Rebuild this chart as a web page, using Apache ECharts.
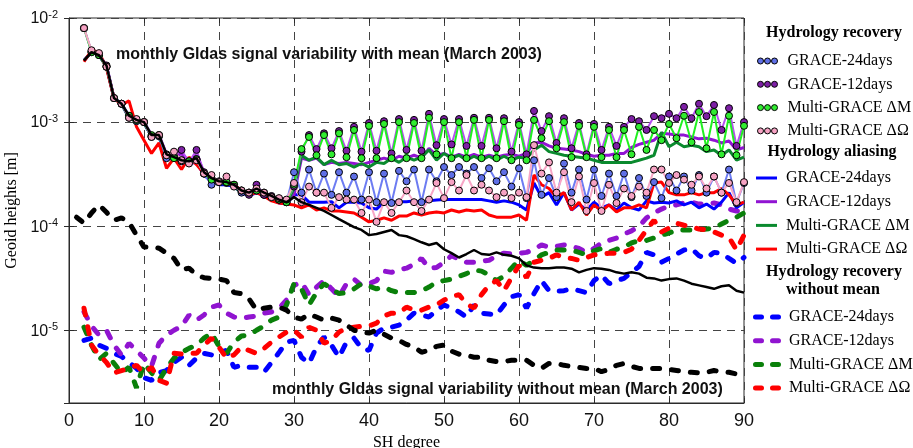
<!DOCTYPE html>
<html><head><meta charset="utf-8">
<script src="https://cdn.jsdelivr.net/npm/echarts@6/dist/echarts.min.js"></script>
<style>html,body{margin:0;padding:0;background:#fff}#chart{width:913px;height:448px}</style>
</head><body><div id="chart"></div>
<script>
// SH degrees 2..90
const degrees = [2,3,4,5,6,7,8,9,
10,11,12,13,14,15,16,17,18,19,20,21,22,23,24,25,26,27,28,29,
30,31,32,33,34,35,36,37,38,39,40,41,42,43,44,45,46,47,48,49,
50,51,52,53,54,55,56,57,58,59,60,61,62,63,64,65,66,67,68,69,
70,71,72,73,74,75,76,77,78,79,80,81,82,83,84,85,86,87,88,89,90];
const degreesFromOne = [1].concat(degrees);
const yTickPowers = [-5, -4, -3, -2];

// GLDAS signal variability with mean (black solid), degrees 2..90
const signalWithMean = [
3.9e-3,4.7e-3,4.4e-3,3.5e-3,1.7e-3,1.5e-3,1.15e-3,1.05e-3,
1.0e-3,7.5e-4,7.5e-4,4.9e-4,4.6e-4,4.3e-4,4.2e-4,4.5e-4,3.3e-4,2.9e-4,
2.7e-4,2.65e-4,2.5e-4,2.2e-4,2.1e-4,2.3e-4,2.1e-4,1.95e-4,1.8e-4,1.7e-4,
1.9e-4,1.7e-4,1.6e-4,1.5e-4,1.4e-4,1.28e-4,1.17e-4,1.07e-4,9.8e-5,9.2e-5,
8.2e-5,8.4e-5,8.8e-5,9.2e-5,8.2e-5,8.0e-5,7.5e-5,7.0e-5,6.6e-5,6.9e-5,
6.0e-5,5.5e-5,5.0e-5,5.4e-5,5.9e-5,5.4e-5,5.3e-5,5.6e-5,5.3e-5,5.2e-5,
4.9e-5,4.2e-5,4.0e-5,3.95e-5,3.95e-5,4.0e-5,4.0e-5,3.9e-5,3.6e-5,3.8e-5,
3.95e-5,3.9e-5,3.8e-5,3.6e-5,3.5e-5,3.6e-5,3.5e-5,3.2e-5,3.15e-5,3.0e-5,
3.1e-5,3.15e-5,3.0e-5,2.8e-5,2.7e-5,2.6e-5,2.5e-5,2.65e-5,2.7e-5,2.4e-5,
2.3e-5];

// GLDAS signal variability without mean (black dashed), degrees 1..90
const signalNoMean = [
1.22e-4,1.07e-4,1.34e-4,1.6e-4,1.36e-4,1.14e-4,1.2e-4,1.09e-4,8.2e-5,
6.3e-5,6.3e-5,6.15e-5,5.5e-5,4.9e-5,3.8e-5,3.95e-5,3.4e-5,3.2e-5,3.15e-5,
3.1e-5,3.0e-5,2.3e-5,2.25e-5,2.0e-5,1.56e-5,1.63e-5,1.67e-5,1.67e-5,1.56e-5,
1.34e-5,1.28e-5,1.43e-5,1.34e-5,1.25e-5,1.31e-5,1.25e-5,1.12e-5,1.0e-5,9.6e-6,
9.4e-6,1.0e-5,9.15e-6,8.4e-6,8.0e-6,7.3e-6,6.9e-6,6.15e-6,6.4e-6,7.0e-6,
7.2e-6,6.3e-6,5.9e-6,5.75e-6,5.5e-6,5.5e-6,5.15e-6,5.0e-6,5.0e-6,5.15e-6,
5.15e-6,5.15e-6,4.6e-6,4.3e-6,4.8e-6,4.8e-6,4.6e-6,4.5e-6,4.4e-6,4.3e-6,
4.3e-6,4.0e-6,4.2e-6,4.6e-6,4.8e-6,4.5e-6,4.3e-6,4.3e-6,4.3e-6,4.3e-6,
4.2e-6,4.1e-6,4.0e-6,3.95e-6,3.9e-6,3.95e-6,4.1e-6,4.0e-6,3.95e-6,3.8e-6,
3.7e-6];

// Hydrology recovery (markers), degrees 2..90
const recGrace24 = [
8.0e-3,4.7e-3,4.4e-3,3.4e-3,1.7e-3,1.5e-3,1.15e-3,1.02e-3,
1.0e-3,7.2e-4,7.3e-4,4.5e-4,4.6e-4,4.2e-4,4.2e-4,4.4e-4,3.2e-4,2.5e-4,
2.65e-4,2.6e-4,2.5e-4,2.1e-4,2.1e-4,2.2e-4,2.0e-4,1.9e-4,1.8e-4,1.7e-4,
3.3e-4,2.1e-4,3.5e-4,2.1e-4,3.2e-4,2.0e-4,3.3e-4,2.1e-4,3.0e-4,1.8e-4,
3.3e-4,1.7e-4,3.2e-4,1.67e-4,3.4e-4,2.7e-4,3.5e-4,1.7e-4,3.5e-4,2.7e-4,
3.7e-4,3.1e-4,3.7e-4,3.2e-4,3.7e-4,2.9e-4,3.6e-4,2.7e-4,3.3e-4,2.4e-4,
3.6e-4,1.86e-4,4.3e-4,2.0e-4,2.9e-4,1.9e-4,4.0e-4,2.1e-4,3.5e-4,1.8e-4,
3.5e-4,1.95e-4,3.2e-4,1.95e-4,3.2e-4,1.9e-4,2.9e-4,1.95e-4,2.65e-4,1.86e-4,
3.0e-4,2.2e-4,3.0e-4,2.2e-4,3.1e-4,2.1e-4,3.0e-4,2.1e-4,3.5e-4,1.67e-4,
2.6e-4];
const recGrace12 = [
8.0e-3,4.8e-3,4.4e-3,3.5e-3,1.7e-3,1.5e-3,1.1e-3,1.05e-3,
1.0e-3,7.3e-4,7.5e-4,4.9e-4,4.7e-4,5.4e-4,4.1e-4,5.4e-4,3.3e-4,2.9e-4,
2.7e-4,2.65e-4,2.5e-4,2.2e-4,2.0e-4,2.5e-4,2.0e-4,1.95e-4,1.8e-4,1.7e-4,
2.4e-4,5.2e-4,7.5e-4,5.5e-4,7.8e-4,5.6e-4,8.2e-4,5.3e-4,9.0e-4,5.2e-4,
9.8e-4,5.3e-4,1.02e-3,5.0e-4,1.07e-3,5.4e-4,1.05e-3,5.3e-4,1.2e-3,6.0e-4,
1.07e-3,6.1e-4,1.07e-3,5.9e-4,1.1e-3,5.9e-4,1.1e-3,5.6e-4,1.09e-3,5.2e-4,
1.0e-3,4.9e-4,1.28e-3,8.2e-4,1.14e-3,6.3e-4,1.09e-3,5.6e-4,9.8e-4,4.9e-4,
9.6e-4,5.4e-4,9.0e-4,5.9e-4,9.0e-4,1.07e-3,1.02e-3,8.4e-4,1.14e-3,1.09e-3,
1.2e-3,1.09e-3,1.4e-3,1.09e-3,1.5e-3,1.14e-3,1.46e-3,8.4e-4,1.36e-3,5.9e-4,
1.0e-3];
const recMultiM = [
8.0e-3,4.7e-3,4.4e-3,3.4e-3,1.7e-3,1.5e-3,1.15e-3,1.05e-3,
1.0e-3,7.5e-4,7.5e-4,4.8e-4,4.5e-4,4.3e-4,4.2e-4,4.4e-4,3.2e-4,2.8e-4,
2.65e-4,2.65e-4,2.5e-4,2.2e-4,2.1e-4,2.2e-4,2.1e-4,1.9e-4,1.8e-4,1.7e-4,
2.5e-4,5.5e-4,7.2e-4,4.8e-4,7.5e-4,4.9e-4,7.8e-4,4.6e-4,8.4e-4,4.5e-4,
9.2e-4,4.5e-4,9.6e-4,4.5e-4,1.0e-3,4.5e-4,9.8e-4,4.5e-4,1.1e-3,4.9e-4,
1.0e-3,4.5e-4,1.0e-3,4.5e-4,1.05e-3,4.5e-4,1.05e-3,4.5e-4,1.02e-3,4.3e-4,
9.4e-4,4.3e-4,1.05e-3,7.0e-4,1.02e-3,5.6e-4,1.0e-3,4.6e-4,9.2e-4,4.6e-4,
9.0e-4,4.6e-4,8.4e-4,4.6e-4,8.4e-4,4.9e-4,9.0e-4,5.4e-4,8.4e-4,6.7e-4,
9.6e-4,7.0e-4,1.15e-3,6.4e-4,1.25e-3,5.6e-4,1.25e-3,4.9e-4,1.15e-3,4.8e-4,
9.2e-4];
const recMultiW = [
8.0e-3,4.9e-3,4.6e-3,3.4e-3,1.7e-3,1.5e-3,1.1e-3,1.07e-3,
1.0e-3,7.2e-4,7.5e-4,4.8e-4,5.2e-4,4.3e-4,4.0e-4,4.3e-4,3.2e-4,3.1e-4,
2.65e-4,3.0e-4,2.4e-4,2.2e-4,2.1e-4,2.3e-4,2.1e-4,1.9e-4,1.86e-4,1.8e-4,
2.6e-4,1.7e-4,2.4e-4,2.1e-4,2.1e-4,1.5e-4,1.9e-4,1.8e-4,1.8e-4,1.34e-4,
1.8e-4,1.1e-4,1.7e-4,1.34e-4,1.7e-4,2.2e-4,1.7e-4,1.4e-4,1.8e-4,2.6e-4,
1.86e-4,2.65e-4,2.2e-4,3.1e-4,2.2e-4,2.5e-4,2.2e-4,1.9e-4,2.1e-4,1.86e-4,
2.1e-4,1.9e-4,6.0e-4,3.2e-4,4.1e-4,2.1e-4,3.3e-4,1.7e-4,3.0e-4,1.4e-4,
2.6e-4,1.4e-4,2.5e-4,1.67e-4,2.3e-4,1.95e-4,2.4e-4,2.1e-4,3.5e-4,3.5e-4,
2.6e-4,3.1e-4,2.8e-4,2.5e-4,3.0e-4,2.3e-4,3.0e-4,2.1e-4,2.6e-4,1.7e-4,
2.65e-4];

// Hydrology aliasing (solid), degrees 2..90
const aliGrace24 = [
3.9e-3,4.7e-3,4.4e-3,3.4e-3,1.7e-3,1.5e-3,1.1e-3,1.02e-3,
9.8e-4,7.3e-4,7.2e-4,4.6e-4,4.4e-4,4.0e-4,4.0e-4,4.1e-4,3.1e-4,2.7e-4,
2.5e-4,2.5e-4,2.4e-4,2.1e-4,1.95e-4,2.1e-4,1.95e-4,1.8e-4,1.67e-4,1.63e-4,
2.0e-4,2.0e-4,1.7e-4,1.7e-4,1.7e-4,1.72e-4,1.5e-4,1.7e-4,1.7e-4,1.67e-4,
1.5e-4,1.46e-4,1.7e-4,1.7e-4,1.72e-4,1.72e-4,1.75e-4,1.7e-4,1.75e-4,1.78e-4,
1.8e-4,1.8e-4,1.8e-4,1.8e-4,1.8e-4,1.8e-4,1.75e-4,1.7e-4,1.75e-4,1.7e-4,
1.6e-4,1.43e-4,2.6e-4,1.9e-4,2.1e-4,1.6e-4,2.1e-4,1.43e-4,1.63e-4,1.43e-4,
1.7e-4,1.5e-4,1.6e-4,1.43e-4,1.67e-4,1.5e-4,1.43e-4,1.75e-4,1.67e-4,1.7e-4,
1.67e-4,1.75e-4,1.6e-4,1.7e-4,1.5e-4,1.63e-4,1.46e-4,1.7e-4,2.1e-4,1.5e-4,
1.7e-4];
const aliGrace12 = [
3.9e-3,4.7e-3,4.4e-3,3.5e-3,1.7e-3,1.5e-3,1.15e-3,1.05e-3,
1.0e-3,7.5e-4,7.5e-4,4.9e-4,4.6e-4,5.0e-4,4.2e-4,4.8e-4,3.3e-4,2.9e-4,
2.7e-4,2.65e-4,2.5e-4,2.2e-4,2.1e-4,2.3e-4,2.1e-4,1.95e-4,1.8e-4,1.75e-4,
2.0e-4,4.5e-4,4.3e-4,4.5e-4,3.9e-4,4.1e-4,4.0e-4,4.1e-4,4.0e-4,3.9e-4,
4.1e-4,4.3e-4,4.5e-4,4.3e-4,4.7e-4,4.5e-4,4.8e-4,4.5e-4,5.6e-4,4.8e-4,
5.0e-4,4.6e-4,4.9e-4,4.6e-4,4.9e-4,4.6e-4,4.8e-4,4.6e-4,4.8e-4,4.9e-4,
4.7e-4,5.0e-4,6.3e-4,6.4e-4,5.9e-4,5.6e-4,5.5e-4,5.4e-4,5.2e-4,4.9e-4,
4.7e-4,4.8e-4,4.8e-4,5.0e-4,5.0e-4,5.7e-4,6.1e-4,6.4e-4,6.7e-4,7.8e-4,
7.7e-4,7.5e-4,7.5e-4,7.2e-4,6.9e-4,7.0e-4,6.7e-4,6.3e-4,6.6e-4,5.4e-4,
5.7e-4];
const aliMultiM = [
3.9e-3,4.7e-3,4.4e-3,3.4e-3,1.7e-3,1.5e-3,1.1e-3,1.02e-3,
9.8e-4,7.3e-4,7.3e-4,4.7e-4,4.5e-4,4.2e-4,4.1e-4,4.3e-4,3.2e-4,2.7e-4,
2.6e-4,2.6e-4,2.4e-4,2.1e-4,2.0e-4,2.2e-4,2.0e-4,1.86e-4,1.75e-4,1.67e-4,
2.3e-4,4.8e-4,4.3e-4,4.6e-4,3.9e-4,4.3e-4,3.9e-4,4.0e-4,3.7e-4,4.0e-4,
3.7e-4,4.1e-4,4.0e-4,4.5e-4,4.1e-4,4.6e-4,4.3e-4,4.6e-4,5.4e-4,4.3e-4,
5.0e-4,4.5e-4,4.8e-4,4.3e-4,4.7e-4,4.3e-4,4.7e-4,4.3e-4,4.7e-4,4.3e-4,
4.6e-4,4.5e-4,5.4e-4,6.0e-4,5.2e-4,5.0e-4,4.8e-4,4.7e-4,4.6e-4,4.5e-4,
4.3e-4,4.1e-4,4.1e-4,4.1e-4,4.1e-4,4.1e-4,4.3e-4,4.5e-4,4.8e-4,8.0e-4,
5.8e-4,6.4e-4,5.8e-4,6.0e-4,5.8e-4,5.2e-4,5.4e-4,4.8e-4,5.4e-4,4.3e-4,
4.6e-4];
const aliMultiW = [
3.8e-3,4.9e-3,4.7e-3,3.3e-3,1.7e-3,1.46e-3,1.6e-3,9.0e-4,
6.7e-4,5.0e-4,6.3e-4,3.6e-4,4.5e-4,3.5e-4,4.6e-4,3.9e-4,3.2e-4,2.9e-4,
2.65e-4,2.6e-4,2.5e-4,2.2e-4,2.0e-4,2.1e-4,1.95e-4,1.75e-4,1.67e-4,1.63e-4,
1.6e-4,1.5e-4,1.6e-4,1.43e-4,1.5e-4,1.4e-4,1.4e-4,1.37e-4,1.34e-4,1.22e-4,
1.1e-4,1.14e-4,1.2e-4,1.14e-4,1.25e-4,1.25e-4,1.34e-4,1.28e-4,1.34e-4,1.37e-4,
1.34e-4,1.43e-4,1.37e-4,1.43e-4,1.4e-4,1.43e-4,1.28e-4,1.22e-4,1.22e-4,1.22e-4,
1.28e-4,1.14e-4,3.1e-4,2.5e-4,2.3e-4,1.9e-4,2.1e-4,1.43e-4,1.7e-4,1.28e-4,
1.6e-4,1.4e-4,1.6e-4,1.37e-4,1.5e-4,1.5e-4,1.6e-4,1.5e-4,2.6e-4,2.65e-4,
2.1e-4,2.0e-4,2.0e-4,2.1e-4,2.0e-4,2.1e-4,2.1e-4,2.3e-4,2.0e-4,1.6e-4,
1.7e-4];

// Hydrology recovery without mean (dashed), degrees 2..90
const nmGrace24 = [
8.0e-6,8.4e-6,7.2e-6,6.7e-6,6.0e-6,5.6e-6,4.9e-6,4.3e-6,
3.5e-6,3.3e-6,3.9e-6,4.1e-6,4.9e-6,5.5e-6,4.6e-6,5.4e-6,6.0e-6,5.8e-6,
6.1e-6,6.4e-6,4.4e-6,4.6e-6,4.4e-6,4.4e-6,3.95e-6,4.9e-6,6.1e-6,7.7e-6,
8.0e-6,5.5e-6,4.8e-6,6.9e-6,8.6e-6,7.2e-6,5.5e-6,7.7e-6,8.4e-6,6.7e-6,
6.4e-6,9.4e-6,1.05e-5,1.07e-5,1.12e-5,1.25e-5,1.46e-5,1.4e-5,1.34e-5,1.56e-5,
1.75e-5,1.63e-5,1.5e-5,1.34e-5,1.75e-5,1.46e-5,1.43e-5,1.4e-5,1.75e-5,2.1e-5,
2.2e-5,1.63e-5,2.25e-5,3.0e-5,2.4e-5,2.37e-5,2.4e-5,2.5e-5,2.4e-5,2.3e-5,
3.0e-5,3.4e-5,2.8e-5,3.0e-5,3.15e-5,3.6e-5,4.1e-5,5.6e-5,5.3e-5,4.5e-5,
4.9e-5,5.4e-5,5.9e-5,6.1e-5,5.2e-5,4.9e-5,5.6e-5,5.5e-5,4.9e-5,4.4e-5,
5.0e-5];
const nmGrace12 = [
1.5e-5,1.1e-5,9.0e-6,1.0e-5,7.2e-6,5.8e-6,7.5e-6,6.4e-6,
5.4e-6,4.5e-6,7.5e-6,9.0e-6,1.0e-5,1.09e-5,1.4e-5,1.25e-5,1.4e-5,1.67e-5,
1.75e-5,1.46e-5,1.34e-5,1.3e-5,1.34e-5,1.37e-5,1.46e-5,1.5e-5,1.63e-5,1.95e-5,
2.7e-5,2.9e-5,2.2e-5,2.6e-5,3.0e-5,2.5e-5,2.1e-5,2.8e-5,3.1e-5,2.7e-5,
2.8e-5,3.0e-5,3.7e-5,3.6e-5,3.8e-5,3.95e-5,4.3e-5,4.9e-5,3.95e-5,4.0e-5,
4.5e-5,5.2e-5,4.8e-5,4.5e-5,4.5e-5,4.6e-5,4.7e-5,5.2e-5,5.5e-5,5.4e-5,
5.5e-5,5.6e-5,6.0e-5,6.6e-5,6.3e-5,6.4e-5,6.6e-5,6.4e-5,6.1e-5,5.6e-5,
6.1e-5,6.9e-5,7.3e-5,7.7e-5,8.4e-5,9.0e-5,1.0e-4,1.2e-4,1.34e-4,1.46e-4,
1.56e-4,1.6e-4,1.67e-4,1.7e-4,1.63e-4,1.63e-4,1.67e-4,1.6e-4,1.46e-4,1.4e-4,
1.36e-4];
const nmMultiM = [
1.07e-5,7.2e-6,5.2e-6,6.0e-6,4.8e-6,3.9e-6,4.4e-6,2.8e-6,
4.8e-6,3.9e-6,3.3e-6,4.3e-6,5.4e-6,6.1e-6,6.7e-6,7.2e-6,8.4e-6,9.4e-6,
7.0e-6,6.0e-6,7.7e-6,8.8e-6,9.0e-6,1.0e-5,1.1e-5,1.25e-5,1.34e-5,1.75e-5,
2.8e-5,2.5e-5,1.75e-5,2.3e-5,2.8e-5,2.5e-5,2.25e-5,2.3e-5,2.5e-5,2.8e-5,
2.65e-5,2.5e-5,2.6e-5,2.4e-5,2.3e-5,2.3e-5,2.3e-5,2.4e-5,2.6e-5,2.9e-5,
3.0e-5,3.1e-5,3.3e-5,3.5e-5,3.8e-5,3.7e-5,3.4e-5,3.0e-5,3.3e-5,3.95e-5,
4.7e-5,4.2e-5,4.7e-5,5.3e-5,5.6e-5,5.9e-5,5.9e-5,5.9e-5,5.6e-5,5.3e-5,
5.8e-5,6.1e-5,5.6e-5,6.0e-5,6.3e-5,6.9e-5,7.3e-5,7.3e-5,7.7e-5,8.2e-5,
8.6e-5,9.2e-5,9.2e-5,9.2e-5,9.2e-5,9.4e-5,9.6e-5,1.05e-4,1.14e-4,1.22e-4,
1.34e-4];
const nmMultiW = [
1.63e-5,7.2e-6,5.8e-6,4.9e-6,3.9e-6,4.1e-6,4.3e-6,4.6e-6,
3.9e-6,4.4e-6,3.3e-6,3.1e-6,6.0e-6,5.9e-6,6.0e-6,6.0e-6,7.2e-6,8.4e-6,
6.9e-6,5.4e-6,5.8e-6,6.9e-6,6.4e-6,6.0e-6,6.7e-6,7.7e-6,8.6e-6,9.6e-6,
1.0e-5,8.6e-6,1.07e-5,1.0e-5,7.5e-6,8.0e-6,9.6e-6,1.05e-5,1.07e-5,1.09e-5,
1.1e-5,1.17e-5,1.37e-5,1.46e-5,1.46e-5,1.67e-5,1.56e-5,1.56e-5,1.67e-5,1.75e-5,
1.95e-5,2.1e-5,2.2e-5,1.8e-5,1.63e-5,2.2e-5,2.7e-5,3.0e-5,2.4e-5,3.2e-5,
4.2e-5,3.2e-5,4.5e-5,4.7e-5,4.9e-5,5.3e-5,5.0e-5,4.9e-5,4.7e-5,5.0e-5,
5.3e-5,5.4e-5,5.5e-5,5.5e-5,5.6e-5,6.0e-5,7.3e-5,9.2e-5,1.14e-4,8.8e-5,
9.6e-5,1.07e-4,1.02e-4,9.8e-5,9.4e-5,9.2e-5,8.8e-5,8.2e-5,7.8e-5,5.9e-5,
8.2e-5];

const legendLabels = ['GRACE-24days', 'GRACE-12days', 'Multi-GRACE \u0394M', 'Multi-GRACE \u0394\u03A9'];

const pairs = (degs, vals) => vals.map((v, i) => [degs[i], v]);
const chart = echarts.init(document.getElementById('chart'), null, {renderer: 'canvas'});

const recLine = ['#6d7cf2', '#b64ff0', '#20f020', '#f7a6c6'];
const recMark = ['#5f6fe6', '#7d1fa5', '#30ec30', '#f6a2c3'];
const aliColor = ['#0000ff', '#9014d2', '#0a8a2e', '#ff0000'];
const nmColor = ['#0000ff', '#9014d0', '#0a800a', '#ff0000'];
const recData = [recGrace24, recGrace12, recMultiM, recMultiW];
const aliData = [aliGrace24, aliGrace12, aliMultiM, aliMultiW];
const nmData = [nmGrace24, nmGrace12, nmMultiM, nmMultiW];

const series = [];
nmData.forEach((d, i) => series.push({
  name: 'C:' + legendLabels[i], type: 'line', data: pairs(degrees, d), showSymbol: false,
  lineStyle: {color: nmColor[i], width: 5, type: [7, 12], cap: 'round'}, itemStyle: {color: nmColor[i]}, z: 2
}));
series.push({name: 'signal without mean', type: 'line', data: pairs(degreesFromOne, signalNoMean), showSymbol: false,
  lineStyle: {color: '#000', width: 5, type: [7, 12], cap: 'round'}, itemStyle: {color: '#000'}, z: 3});
aliData.forEach((d, i) => series.push({
  name: 'B:' + legendLabels[i], type: 'line', data: pairs(degrees, d), showSymbol: false,
  lineStyle: {color: aliColor[i], width: 3}, itemStyle: {color: aliColor[i]}, z: 4
}));
recData.forEach((d, i) => series.push({
  name: 'A:' + legendLabels[i], type: 'line', data: pairs(degrees, d), symbol: 'circle', symbolSize: 7,
  lineStyle: {color: recLine[i], width: 2}, itemStyle: {color: recMark[i], borderColor: '#000', borderWidth: 1}, z: 5
}));
series.push({name: 'signal with mean', type: 'line', data: pairs(degrees, signalWithMean), showSymbol: false,
  lineStyle: {color: '#000', width: 2.5}, itemStyle: {color: '#000'}, z: 6});
series.forEach(s => { s.animation = false; s.emphasis = {disabled: true}; s.silent = true; });

const circlesIcon = 'path://M0,3a3,3 0 1,0 6,0a3,3 0 1,0 -6,0Z M7,3a3,3 0 1,0 6,0a3,3 0 1,0 -6,0Z M14,3a3,3 0 1,0 6,0a3,3 0 1,0 -6,0Z';
const lineIcon = 'path://M0,0H21V3H0Z';
const dashIcon = 'path://M2.5,0H8.5A2.5,2.5 0 0,1 8.5,5H2.5A2.5,2.5 0 0,1 2.5,0Z M19.5,0H25.5A2.5,2.5 0 0,1 25.5,5H19.5A2.5,2.5 0 0,1 19.5,0Z';
const legText = {fontFamily: '"Liberation Serif", "Times New Roman", serif', fontSize: 16, color: '#000', lineHeight: 16, padding: [0, 0, 0, 5]};
const fmt = n => n.replace(/^[A-C]:/, '');

const option = {
  backgroundColor: '#fff',
  animation: false,
  grid: {left: 69, right: 169, top: 18, bottom: 45, show: true, borderColor: '#2b2b2b', borderWidth: 1,
    containLabel: false, outerBoundsMode: 'none'},
  xAxis: [{
    type: 'value', min: 0, max: 90, interval: 10,
    name: 'SH degree', nameLocation: 'middle', nameGap: 30,
    nameTextStyle: {fontFamily: '"Liberation Serif", serif', fontSize: 16, color: '#000'},
    axisLine: {show: true, lineStyle: {color: '#2b2b2b'}},
    axisTick: {show: true, inside: true, length: 5, lineStyle: {color: '#2b2b2b'}},
    axisLabel: {fontFamily: '"Liberation Sans", Arial, sans-serif', fontSize: 18, color: '#111', margin: 9},
    splitLine: {show: true, lineStyle: {color: '#444', type: [8, 6], width: 1}}
  }, {
    type: 'value', min: 0, max: 90, interval: 10, position: 'top',
    axisLine: {show: false}, axisTick: {show: true, inside: true, length: 5, lineStyle: {color: '#2b2b2b'}},
    axisLabel: {show: false}, splitLine: {show: false}
  }],
  yAxis: [{
    type: 'log', logBase: 10, min: 2e-6, max: 1e-2,
    name: 'Geoid heights [m]', nameLocation: 'middle', nameGap: 46,
    nameTextStyle: {fontFamily: '"Liberation Serif", serif', fontSize: 16, color: '#000'},
    axisLine: {show: true, lineStyle: {color: '#2b2b2b'}},
    axisTick: {show: true, inside: true, length: 5, lineStyle: {color: '#2b2b2b'}},
    axisLabel: {
      margin: 11, showMinLabel: false,
      formatter: v => {
        const l = Math.log10(v), e = Math.round(l);
        if (Math.abs(l - e) > 1e-6 || yTickPowers.indexOf(e) < 0) return '';
        return '{b|10}{s|' + e + '}';
      },
      rich: {
        b: {fontFamily: '"Liberation Sans", Arial, sans-serif', fontSize: 16, color: '#111', lineHeight: 18, verticalAlign: 'bottom'},
        s: {fontFamily: '"Liberation Sans", Arial, sans-serif', fontSize: 11, color: '#111', lineHeight: 18, verticalAlign: 'top'}
      }
    },
    splitLine: {show: true, lineStyle: {color: '#444', type: [8, 6], width: 1}}
  }, {
    type: 'log', logBase: 10, min: 2e-6, max: 1e-2, position: 'right',
    axisLine: {show: false}, axisTick: {show: true, inside: true, length: 5, lineStyle: {color: '#2b2b2b'}},
    axisLabel: {show: false}, splitLine: {show: false}
  }],
  legend: [
    {orient: 'vertical', left: 757, top: 53, padding: 0, itemGap: 7.3, itemWidth: 20, itemHeight: 6,
      selectedMode: false, textStyle: legText, formatter: fmt,
      data: legendLabels.map((l, i) => ({name: 'A:' + l, icon: circlesIcon,
        itemStyle: {color: recMark[i], borderColor: '#000', borderWidth: 1}}))},
    {orient: 'vertical', left: 756, top: 170, padding: 0, itemGap: 7.7, itemWidth: 21, itemHeight: 3,
      selectedMode: false, textStyle: Object.assign({}, legText, {padding: [0, 0, 0, 4]}), formatter: fmt,
      data: legendLabels.map((l, i) => ({name: 'B:' + l, icon: lineIcon,
        itemStyle: {color: aliColor[i], borderWidth: 0}}))},
    {orient: 'vertical', left: 753, top: 309, padding: 0, itemGap: 7.7, itemWidth: 28, itemHeight: 5,
      selectedMode: false, textStyle: Object.assign({}, legText, {padding: [0, 0, 0, 3]}), formatter: fmt,
      data: legendLabels.map((l, i) => ({name: 'C:' + l, icon: dashIcon,
        itemStyle: {color: nmColor[i], borderWidth: 0}}))}
  ],
  graphic: [
    {type: 'text', x: 834, y: 33, silent: true, style: {text: 'Hydrology recovery', font: 'bold 16px "Liberation Serif", serif', fill: '#000', align: 'center', verticalAlign: 'middle'}},
    {type: 'text', x: 832, y: 152, silent: true, style: {text: 'Hydrology aliasing', font: 'bold 16px "Liberation Serif", serif', fill: '#000', align: 'center', verticalAlign: 'middle'}},
    {type: 'text', x: 834, y: 272, silent: true, style: {text: 'Hydrology recovery', font: 'bold 16px "Liberation Serif", serif', fill: '#000', align: 'center', verticalAlign: 'middle'}},
    {type: 'text', x: 833, y: 290, silent: true, style: {text: 'without mean', font: 'bold 16px "Liberation Serif", serif', fill: '#000', align: 'center', verticalAlign: 'middle'}},
    {type: 'text', x: 116, y: 55, silent: true, z: 10, style: {text: 'monthly Gldas signal variability with mean (March 2003)', font: 'bold 16px "Liberation Sans", Arial, sans-serif', fill: '#111', align: 'left', verticalAlign: 'middle'}},
    {type: 'text', x: 272, y: 390, silent: true, z: 10, style: {text: 'monthly Gldas signal variability without mean (March 2003)', font: 'bold 16px "Liberation Sans", Arial, sans-serif', fill: '#111', align: 'left', verticalAlign: 'middle'}}
  ],
  series: series
};
chart.setOption(option);
</script>
</body></html>
